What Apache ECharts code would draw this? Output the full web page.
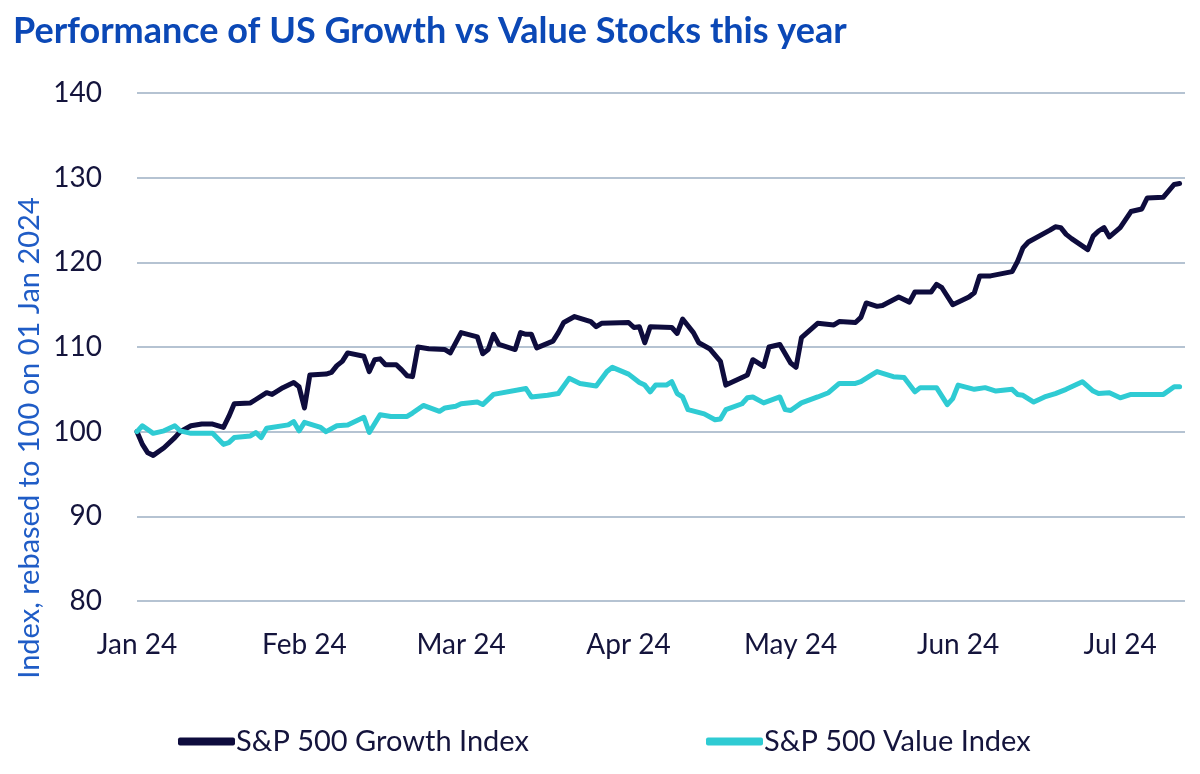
<!DOCTYPE html>
<html>
<head>
<meta charset="utf-8">
<script src="https://cdn.jsdelivr.net/npm/echarts@6/dist/echarts.min.js"></script>
<style>
  html, body { margin: 0; padding: 0; background: #ffffff; }
  #chart { width: 1200px; height: 774px; }
</style>
</head>
<body>
<div id="chart"></div>
<script>
const titleText = 'Performance of US Growth vs Value Stocks this year';
const yAxisTitle = 'Index, rebased to 100 on 01 Jan 2024';
const seriesNames = ['S&P 500 Growth Index', 'S&P 500 Value Index'];
const monthNames = ['Jan','Feb','Mar','Apr','May','Jun','Jul','Aug','Sep','Oct','Nov','Dec'];

const growthDates = ['2024-01-01','2024-01-02','2024-01-03','2024-01-04','2024-01-06','2024-01-08','2024-01-09','2024-01-11','2024-01-13','2024-01-15','2024-01-17','2024-01-18','2024-01-19','2024-01-22','2024-01-23','2024-01-25','2024-01-26','2024-01-28','2024-01-30','2024-01-31','2024-02-01','2024-02-02','2024-02-05','2024-02-06','2024-02-07','2024-02-08','2024-02-09','2024-02-12','2024-02-13','2024-02-14','2024-02-15','2024-02-16','2024-02-18','2024-02-19','2024-02-20','2024-02-21','2024-02-22','2024-02-24','2024-02-27','2024-02-28','2024-03-01','2024-03-04','2024-03-05','2024-03-06','2024-03-07','2024-03-08','2024-03-11','2024-03-12','2024-03-13','2024-03-14','2024-03-15','2024-03-18','2024-03-19','2024-03-20','2024-03-22','2024-03-25','2024-03-26','2024-03-27','2024-04-01','2024-04-02','2024-04-03','2024-04-04','2024-04-05','2024-04-09','2024-04-10','2024-04-11','2024-04-13','2024-04-14','2024-04-16','2024-04-18','2024-04-19','2024-04-23','2024-04-24','2024-04-26','2024-04-27','2024-04-29','2024-05-01','2024-05-02','2024-05-03','2024-05-06','2024-05-09','2024-05-10','2024-05-13','2024-05-14','2024-05-15','2024-05-17','2024-05-18','2024-05-21','2024-05-23','2024-05-24','2024-05-27','2024-05-28','2024-05-29','2024-05-31','2024-06-03','2024-06-04','2024-06-05','2024-06-07','2024-06-11','2024-06-12','2024-06-13','2024-06-14','2024-06-18','2024-06-19','2024-06-20','2024-06-21','2024-06-22','2024-06-25','2024-06-26','2024-06-27','2024-06-28','2024-06-29','2024-07-01','2024-07-03','2024-07-05','2024-07-06','2024-07-09','2024-07-11','2024-07-12'];
const growthValues = [100,98.5,97.5,97.2,98.1,99.3,100,100.7,100.9,100.9,100.5,101.8,103.3,103.4,103.8,104.6,104.4,105.2,105.8,105.3,102.8,106.7,106.8,107.0,107.8,108.3,109.3,108.9,107.1,108.5,108.6,107.9,107.9,107.3,106.6,106.5,110.0,109.8,109.7,109.3,111.7,111.2,109.2,109.7,111.5,110.3,109.7,111.7,111.5,111.5,109.9,110.7,111.7,112.9,113.6,113.0,112.4,112.8,112.9,112.3,112.4,110.5,112.4,112.3,111.6,113.3,111.7,110.5,109.8,108.3,105.5,106.7,108.5,107.7,110.0,110.3,108.1,107.6,111.1,112.8,112.6,113.0,112.9,113.5,115.2,114.8,114.9,115.9,115.3,116.5,116.5,117.4,117.0,115.0,115.9,116.4,118.4,118.4,118.9,120.1,121.7,122.4,123.8,124.2,124.1,123.3,122.8,121.5,123.1,123.7,124.1,123.0,124.1,126.0,126.3,127.6,127.7,129.2,129.3];

const valueDates = ['2024-01-01','2024-01-02','2024-01-04','2024-01-06','2024-01-08','2024-01-09','2024-01-11','2024-01-15','2024-01-17','2024-01-18','2024-01-19','2024-01-22','2024-01-23','2024-01-24','2024-01-25','2024-01-29','2024-01-30','2024-01-31','2024-02-01','2024-02-04','2024-02-05','2024-02-07','2024-02-09','2024-02-12','2024-02-13','2024-02-15','2024-02-17','2024-02-20','2024-02-21','2024-02-23','2024-02-26','2024-02-27','2024-02-29','2024-03-01','2024-03-04','2024-03-05','2024-03-07','2024-03-13','2024-03-14','2024-03-17','2024-03-19','2024-03-21','2024-03-23','2024-03-26','2024-03-28','2024-03-29','2024-04-01','2024-04-03','2024-04-04','2024-04-05','2024-04-06','2024-04-08','2024-04-09','2024-04-10','2024-04-11','2024-04-12','2024-04-15','2024-04-17','2024-04-18','2024-04-19','2024-04-22','2024-04-23','2024-04-24','2024-04-26','2024-04-29','2024-04-30','2024-05-01','2024-05-03','2024-05-06','2024-05-08','2024-05-10','2024-05-13','2024-05-14','2024-05-16','2024-05-17','2024-05-20','2024-05-22','2024-05-24','2024-05-25','2024-05-28','2024-05-30','2024-05-31','2024-06-01','2024-06-04','2024-06-06','2024-06-08','2024-06-11','2024-06-12','2024-06-13','2024-06-15','2024-06-17','2024-06-19','2024-06-21','2024-06-24','2024-06-26','2024-06-27','2024-06-29','2024-07-01','2024-07-03','2024-07-09','2024-07-11','2024-07-12'];
const valueValues = [100,100.7,99.8,100.1,100.7,100.1,99.8,99.8,98.5,98.7,99.3,99.5,99.9,99.3,100.4,100.8,101.2,100.1,101.1,100.5,100.0,100.7,100.8,101.7,99.9,102.0,101.8,101.8,102.2,103.1,102.4,102.8,103.0,103.3,103.5,103.2,104.4,105.1,104.1,104.3,104.5,106.3,105.7,105.4,107.1,107.6,106.8,105.8,105.5,104.7,105.5,105.5,105.9,104.5,104.1,102.6,102.1,101.4,101.5,102.6,103.3,104.0,104.1,103.4,104.1,102.6,102.5,103.4,104.1,104.6,105.7,105.7,105.9,106.7,107.1,106.5,106.4,104.7,105.2,105.2,103.2,103.9,105.5,105.0,105.2,104.8,105.0,104.4,104.3,103.5,104.1,104.5,105.0,105.9,104.8,104.5,104.6,104.0,104.4,104.4,105.3,105.3];

const yTicks = { min: 80, max: 140, interval: 10 };
const xRange = { min: '2024-01-01', max: '2024-07-13' };

const FONT = 'Lato';
const chart = echarts.init(document.getElementById('chart'));
chart.setOption({
  backgroundColor: '#ffffff',
  animation: false,
  title: {
    text: titleText,
    left: 8,
    top: 8,
    textStyle: { fontFamily: FONT, fontWeight: 'bold', fontSize: 36, color: '#0B48B6' }
  },
  graphic: [{
    type: 'text',
    x: 30,
    y: 438,
    rotation: Math.PI / 2,
    style: {
      text: yAxisTitle,
      fontFamily: FONT,
      fontSize: 29,
      fill: '#1F5CC6',
      align: 'center',
      verticalAlign: 'middle'
    }
  }],
  legend: [
    {
      data: [seriesNames[0]],
      left: 173, top: 722,
      icon: 'roundRect', itemWidth: 57, itemHeight: 8, itemGap: 0,
      textStyle: { fontFamily: FONT, fontSize: 29, color: '#14143C', padding: [0, 0, 0, -4] }
    },
    {
      data: [seriesNames[1]],
      left: 701, top: 722,
      icon: 'roundRect', itemWidth: 57, itemHeight: 8, itemGap: 0,
      textStyle: { fontFamily: FONT, fontSize: 29, color: '#14143C', padding: [0, 0, 0, -4] }
    }
  ],
  grid: { left: 137, right: 15, top: 93, bottom: 173, containLabel: false },
  xAxis: {
    type: 'time',
    min: xRange.min,
    max: xRange.max,
    minInterval: 28 * 24 * 3600 * 1000,
    maxInterval: 31 * 24 * 3600 * 1000,
    axisLine: { show: false },
    axisTick: { show: false },
    splitLine: { show: false },
    axisLabel: {
      margin: 30,
      fontFamily: FONT,
      fontSize: 28,
      color: '#14143C',
      hideOverlap: false,
      formatter: function (val) {
        const d = new Date(val);
        return monthNames[d.getMonth()] + ' ' + String(d.getFullYear()).slice(2);
      }
    }
  },
  yAxis: {
    type: 'value',
    min: yTicks.min,
    max: yTicks.max,
    interval: yTicks.interval,
    axisLine: { show: false },
    axisTick: { show: false },
    splitLine: { lineStyle: { color: '#B5C3D2', width: 2 } },
    axisLabel: { margin: 35, fontFamily: FONT, fontSize: 28, color: '#14143C' }
  },
  series: [
    {
      name: seriesNames[0],
      type: 'line',
      showSymbol: false,
      color: '#0E0C3D',
      lineStyle: { width: 5, color: '#0E0C3D', join: 'round', cap: 'round' },
      data: growthDates.map((d, i) => [d, growthValues[i]])
    },
    {
      name: seriesNames[1],
      type: 'line',
      showSymbol: false,
      color: '#2FCBD3',
      lineStyle: { width: 5, color: '#2FCBD3', join: 'round', cap: 'round' },
      data: valueDates.map((d, i) => [d, valueValues[i]])
    }
  ]
});
</script>
</body>
</html>
